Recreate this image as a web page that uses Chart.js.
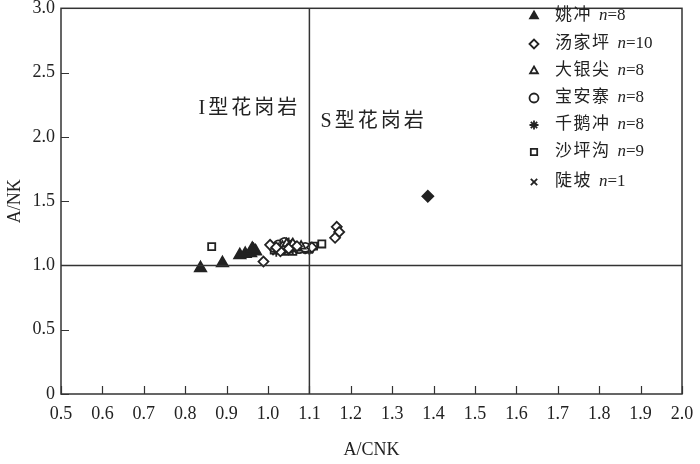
<!DOCTYPE html>
<html>
<head>
<meta charset="utf-8">
<script src="https://cdn.jsdelivr.net/npm/chart.js@4"></script>
<style>
  html, body { margin: 0; padding: 0; background: #fff; }
  #wrap { width: 700px; height: 464px; }
</style>
</head>
<body>
<div id="wrap"><canvas id="acnk"></canvas></div>
<script>
// A/CNK vs A/NK
const yaochong   = [[0.837,0.979],[0.890,1.018],[0.932,1.080],[0.945,1.090],[0.958,1.095],[0.965,1.120],[0.970,1.110],[0.962,1.130]];
const tangjiaping = [[0.989,1.030],[1.005,1.160],[1.166,1.300],[1.172,1.260],[1.162,1.215],[1.106,1.140],[1.030,1.110],[1.050,1.130],[1.070,1.150],[1.020,1.140]];
const dayinjian  = [[1.025,1.130],[1.035,1.150],[1.045,1.170],[1.050,1.140],[1.060,1.170],[1.070,1.135],[1.080,1.150],[1.045,1.120]];
const baoanzhai  = [[1.015,1.140],[1.025,1.160],[1.035,1.125],[1.055,1.155],[1.065,1.150],[1.075,1.130],[1.090,1.140],[1.040,1.180]];
const qianechong = [[1.020,1.110],[1.030,1.165],[1.045,1.150],[1.050,1.175],[1.060,1.125],[1.080,1.140],[1.090,1.130],[1.100,1.125]];
const shapinggou = [[0.864,1.146],[1.130,1.167],[1.100,1.140],[1.080,1.130],[1.095,1.125],[1.060,1.110],[1.015,1.120],[1.040,1.110],[1.110,1.150]];
const doupo      = [[1.386,1.538]];

const groupNames = ['姚冲', '汤家坪', '大银尖', '宝安寨', '千鹅冲', '沙坪沟', '陡坡'];
const groupCounts = [8, 10, 8, 8, 8, 9, 1];
const xTicks = [0.5, 2.0, 0.1];   // min, max, step
const yTicks = [0, 3.0, 0.5];
const refX = 1.1;   // I / S boundary
const refY = 1.0;
const regionLabels = [['I型花岗岩', 0.955, 2.22], ['S型花岗岩', 1.255, 2.12]];

const serif = "'Liberation Serif', 'Times New Roman', serif";
const cjk = "'Liberation Serif', 'Noto Sans CJK SC', serif";
const ink = '#222';

function pts(arr) { return arr.map(p => ({ x: p[0], y: p[1] })); }

const styles = [
  { pointStyle: 'triangle', radius: 6.5, fill: ink },
  { pointStyle: 'rectRot', radius: 5, fill: '#fff' },
  { pointStyle: 'triangle', radius: 5, fill: '#fff' },
  { pointStyle: 'circle', radius: 4.5, fill: '#fff' },
  { pointStyle: 'star', radius: 5.5, fill: ink },
  { pointStyle: 'rect', radius: 5, fill: '#fff' },
  { pointStyle: 'rectRot', radius: 5.5, fill: ink }
];
const legendStyles = ['triangle', 'rectRot', 'triangle', 'circle', 'star', 'rect', 'crossRot'];
const legendFill = [ink, '#fff', '#fff', '#fff', ink, '#fff', ink];

const series = [yaochong, tangjiaping, dayinjian, baoanzhai, qianechong, shapinggou, doupo];
const datasets = series.map((s, i) => ({
  label: groupNames[i],
  data: pts(s),
  pointStyle: styles[i].pointStyle,
  pointRadius: styles[i].radius,
  pointBackgroundColor: styles[i].fill,
  pointBorderColor: ink,
  pointBorderWidth: 1.8
}));

// frame, inward ticks, reference lines, region labels and legend
const decor = {
  id: 'decor',
  afterDraw(chart) {
    const { ctx, chartArea: a, scales: { x, y } } = chart;
    ctx.save();
    ctx.strokeStyle = '#333';
    ctx.lineWidth = 1.5;
    ctx.strokeRect(a.left, a.top, a.right - a.left, a.bottom - a.top);

    ctx.lineWidth = 1.2;
    ctx.beginPath();
    for (let v = xTicks[0]; v <= xTicks[1] + 1e-9; v += xTicks[2]) {
      const px = Math.round(x.getPixelForValue(v)) + 0.5;
      ctx.moveTo(px, a.bottom); ctx.lineTo(px, a.bottom - 8);
    }
    for (let v = yTicks[0]; v <= yTicks[1] + 1e-9; v += yTicks[2]) {
      const py = Math.round(y.getPixelForValue(v)) + 0.5;
      ctx.moveTo(a.left, py); ctx.lineTo(a.left + 8, py);
    }
    ctx.stroke();

    ctx.lineWidth = 1.5;
    ctx.beginPath();
    const rx = x.getPixelForValue(refX);
    ctx.moveTo(rx, a.top); ctx.lineTo(rx, a.bottom);
    const ry = y.getPixelForValue(refY);
    ctx.moveTo(a.left, ry); ctx.lineTo(a.right, ry);
    ctx.stroke();

    ctx.fillStyle = ink;
    ctx.textBaseline = 'middle';
    ctx.textAlign = 'center';
    ctx.font = "20px " + cjk;
    ctx.letterSpacing = '3px';
    regionLabels.forEach(([t, vx, vy]) => {
      ctx.fillText(t, x.getPixelForValue(vx), y.getPixelForValue(vy));
    });

    // legend
    const rows = [16, 44, 71, 98, 125, 152, 182];
    ctx.textAlign = 'left';
    groupNames.forEach((name, i) => {
      const ly = rows[i];
      ctx.fillStyle = legendFill[i];
      ctx.strokeStyle = ink;
      ctx.lineWidth = 1.8;
      Chart.helpers.drawPoint(ctx, { pointStyle: legendStyles[i], radius: 4.5, rotation: 0, borderWidth: 1.8 }, 534, ly);
      if (legendFill[i] !== '#fff') ctx.fill();
      ctx.fillStyle = ink;
      ctx.font = "17px " + cjk;
      ctx.letterSpacing = '1.5px';
      let tx = 555;
      ctx.fillText(name, tx, ly);
      tx += ctx.measureText(name).width + 7;
      ctx.letterSpacing = '0px';
      ctx.font = "italic 17px " + serif;
      ctx.fillText('n', tx, ly);
      tx += ctx.measureText('n').width;
      ctx.font = "17px " + serif;
      ctx.fillText('=' + groupCounts[i], tx, ly);
    });
    ctx.restore();
  }
};

new Chart(document.getElementById('acnk'), {
  type: 'scatter',
  data: { datasets },
  options: {
    responsive: true,
    maintainAspectRatio: false,
    animation: false,
    events: [],
    layout: { padding: { top: 5, right: 18, left: 0, bottom: 0 } },
    plugins: { legend: { display: false }, tooltip: { enabled: false } },
    scales: {
      x: {
        type: 'linear',
        min: xTicks[0], max: xTicks[1],
        grid: { display: false, drawTicks: false },
        border: { display: false },
        ticks: {
          stepSize: xTicks[2], padding: 9, color: ink, maxRotation: 0, autoSkip: false,
          font: { family: serif, size: 18 },
          callback: v => v.toFixed(1)
        },
        title: { display: true, text: 'A/CNK', color: ink, font: { family: serif, size: 18 }, padding: { top: 4, bottom: 3 } },
        afterFit(s) { s.height = 70; s.paddingLeft = 0; s.paddingRight = 0; }
      },
      y: {
        type: 'linear',
        min: yTicks[0], max: yTicks[1],
        grid: { display: false, drawTicks: false },
        border: { display: false },
        ticks: {
          stepSize: yTicks[2], padding: 6, color: ink,
          font: { family: serif, size: 18 },
          callback: v => v === 0 ? '0' : v.toFixed(1)
        },
        title: { display: true, text: 'A/NK', color: ink, font: { family: serif, size: 18 }, padding: { top: 4, bottom: 0 } },
        afterFit(s) { s.width = 61; s.paddingTop = 0; s.paddingBottom = 0; }
      }
    }
  },
  plugins: [decor]
});
</script>
</body>
</html>
